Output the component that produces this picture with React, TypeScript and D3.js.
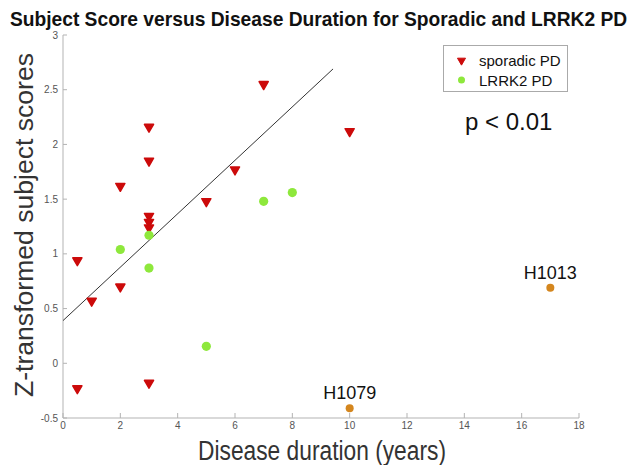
import React, { useRef, useLayoutEffect, useState } from "react";
import * as d3 from "d3";

// data
const sporadicX = [2, 3, 3, 3, 3, 3, 5, 6, 7, 10, 0.5, 1, 2, 0.5, 3];
const sporadicY = [1.62, 2.16, 1.85, 1.345, 1.29, 1.24, 1.48, 1.77, 2.55, 2.12, 0.94, 0.57, 0.7, -0.23, -0.18];

const lrrk2X = [2, 3, 3, 7, 8, 5];
const lrrk2Y = [1.04, 1.17, 0.87, 1.48, 1.56, 0.155];

const outlierNames = ["H1013", "H1079"];
const outlierX = [17, 10];
const outlierY = [0.69, -0.41];

const fitX = [0, 9.42];
const fitY = [0.39, 2.69];

const xTicks = [0, 2, 4, 6, 8, 10, 12, 14, 16, 18];
const yTicks = [-0.5, 0, 0.5, 1, 1.5, 2, 2.5, 3];

const legendLabels = ["sporadic PD", "LRRK2 PD"];

const RED = "#cc0a0a";
const GREEN = "#8ee83c";
const ORANGE = "#d4861e";
const FONT = "'Liberation Sans Narrow', 'Liberation Sans', Arial, sans-serif";
const FONT_REG = "'Liberation Sans', Arial, sans-serif";

const TITLE = "Subject Score versus Disease Duration for Sporadic and LRRK2 PD";

const App = () => {
  const W = 635;
  const H = 465;
  const margin = { top: 35, right: 56, bottom: 47, left: 63 };

  const titleRef = useRef<SVGTextElement>(null);
  const [titleScale, setTitleScale] = useState(0.85);

  useLayoutEffect(() => {
    if (!titleRef.current) return;
    const len = titleRef.current.getComputedTextLength();
    if (len > 0) setTitleScale(617 / len);
  }, []);

  const x = d3.scaleLinear().domain([0, 18]).range([margin.left, W - margin.right]);
  const y = d3.scaleLinear().domain([-0.5, 3]).range([H - margin.bottom, margin.top]);

  const tri = d3.symbol().type(d3.symbolTriangle).size(36)() || "";
  const triSmall = d3.symbol().type(d3.symbolTriangle).size(28)() || "";
  const fitLine = d3.line<number>()
    .x((d) => x(fitX[d]))
    .y((d) => y(fitY[d]));

  const axisColor = "#b3b3b3";
  const tickColor = "#555";
  const y0 = y(-0.5);
  const x0 = x(0);

  return (
    <svg
      width={W}
      height={H}
      style={{ position: "absolute", left: 0, top: 0, background: "#fff" }}
    >
      {/* title */}
      <text
        ref={titleRef}
        transform={`translate(318.5,25.5) scale(${titleScale},1)`}
        textAnchor="middle"
        fontFamily={FONT_REG}
        fontWeight="bold"
        fontSize={20}
        fill="#111"
      >
        {TITLE}
      </text>

      {/* axes */}
      <line x1={x0} x2={x0} y1={y(3)} y2={y0} stroke={axisColor} strokeWidth={1} />
      <line x1={x0} x2={x(18)} y1={y0} y2={y0} stroke={axisColor} strokeWidth={1} />
      {yTicks.map((t) => (
        <g key={"y" + t}>
          <line x1={x0} x2={x0 + 4} y1={y(t)} y2={y(t)} stroke={axisColor} />
          <text
            x={x0 - 5}
            y={y(t) + 3.5}
            textAnchor="end"
            fontFamily={FONT}
            fontSize={10}
            fill={tickColor}
          >
            {t}
          </text>
        </g>
      ))}
      {xTicks.map((t) => (
        <g key={"x" + t}>
          <line x1={x(t)} x2={x(t)} y1={y0} y2={y0 - 5} stroke={axisColor} />
          <text
            x={x(t)}
            y={y0 + 11}
            textAnchor="middle"
            fontFamily={FONT}
            fontSize={10}
            fill={tickColor}
          >
            {t}
          </text>
        </g>
      ))}

      {/* axis titles */}
      <text
        x={322}
        y={460}
        textAnchor="middle"
        fontFamily={FONT_REG}
        fontSize={27}
        textLength={248}
        lengthAdjust="spacingAndGlyphs"
        fill="#333"
      >
        Disease duration (years)
      </text>
      <text
        transform={`translate(33,225) rotate(-90)`}
        textAnchor="middle"
        fontFamily={FONT_REG}
        fontSize={25}
        textLength={344}
        lengthAdjust="spacingAndGlyphs"
        fill="#333"
      >
        Z-transformed subject scores
      </text>

      {/* regression line */}
      <path d={fitLine([0, 1]) || ""} stroke="#333" strokeWidth={1} fill="none" />

      {/* sporadic */}
      {sporadicX.map((v, i) => (
        <path
          key={"s" + i}
          d={tri}
          transform={`translate(${x(v)},${y(sporadicY[i])}) rotate(180)`}
          fill={RED}
          stroke={RED}
          strokeWidth={1.5}
          strokeLinejoin="round"
        />
      ))}

      {/* LRRK2 */}
      {lrrk2X.map((v, i) => (
        <circle key={"l" + i} cx={x(v)} cy={y(lrrk2Y[i])} r={4.6} fill={GREEN} />
      ))}

      {/* labelled outliers */}
      {outlierX.map((v, i) => (
        <g key={"o" + i}>
          <circle cx={x(v)} cy={y(outlierY[i])} r={4} fill={ORANGE} />
          <text
            x={x(v)}
            y={y(outlierY[i]) - 9}
            textAnchor="middle"
            fontFamily={FONT_REG}
            fontSize={18}
            fill="#111"
          >
            {outlierNames[i]}
          </text>
        </g>
      ))}

      {/* p value */}
      <text x={465} y={130} fontFamily={FONT_REG} fontSize={24} fill="#111">
        p &lt; 0.01
      </text>

      {/* legend */}
      <g>
        <rect x={443.5} y={45.5} width={124} height={46} fill="#fff" stroke="#aaa" />
        <path d={triSmall} transform="translate(461.5,60.5) rotate(180)" fill={RED} stroke={RED} strokeWidth={1} strokeLinejoin="round" />
        <circle cx={461.5} cy={80} r={3.5} fill={GREEN} />
        {legendLabels.map((l, i) => (
          <text key={l} x={479} y={66 + i * 20} fontFamily={FONT_REG} fontSize={15} fill="#111">
            {l}
          </text>
        ))}
      </g>
    </svg>
  );
};

export default App;
